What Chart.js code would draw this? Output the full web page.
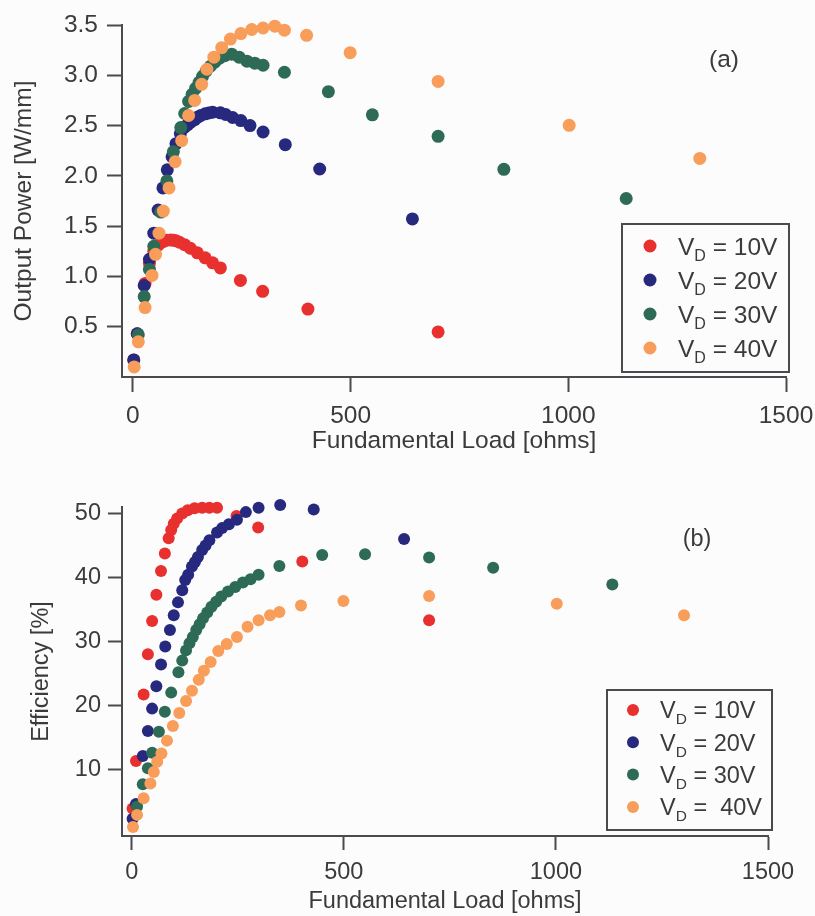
<!DOCTYPE html>
<html>
<head>
<meta charset="utf-8">
<title>Output power and efficiency versus fundamental load</title>
<script src="https://cdn.jsdelivr.net/npm/chart.js@4.4.1/dist/chart.umd.min.js"></script>
<style>
  html, body { margin: 0; padding: 0; background: #fcfcfc; }
  #wrap { position: relative; width: 815px; height: 916px; overflow: hidden; }
  canvas { position: absolute; left: 0; }
  #chartPower { top: 0; }
  #chartEff { top: 458px; }
</style>
</head>
<body>
<div id="wrap">
  <canvas id="chartPower" width="815" height="458"></canvas>
  <canvas id="chartEff" width="815" height="458"></canvas>
</div>
<script>
// Drain-voltage sweeps (legend text after "V_D =")
const sweepLabelsPower = ['10V', '20V', '30V', '40V'];
const sweepLabelsEff   = ['10V', '20V', '30V', ' 40V'];

// Fundamental load [ohms] of each measured point, per drain voltage
const load10 = [2, 10, 28, 38, 48, 58, 69, 78, 87, 93, 99, 107, 119, 132, 148, 166, 183, 201, 247, 298, 402, 701];
const load20 = [2, 10, 26, 38, 48, 58, 69, 79, 90, 99, 109, 119, 126, 133, 142, 149, 156, 166, 174, 183, 201, 213, 229, 248, 269, 299, 350, 429, 642];
const load30 = [12.5, 26, 38, 48, 64, 78, 93, 110, 119, 128, 136, 144, 152, 160, 168, 178, 188, 199, 211, 227, 244, 262, 280, 299, 348, 449, 550, 701, 852, 1133];
const load40 = [3, 12.5, 28, 44, 52, 60, 70, 83, 97, 112, 128, 142, 158, 170, 186, 204, 224, 248, 273, 299, 326, 348, 399, 499, 701, 1002, 1302];

// Output power [W/mm]
const power10 = [0.17, 0.43, 0.93, 1.13, 1.25, 1.31, 1.345, 1.36, 1.362, 1.36, 1.355, 1.34, 1.315, 1.28, 1.235, 1.185, 1.135, 1.085, 0.96, 0.852, 0.675, 0.448];
const power20 = [0.17, 0.43, 0.91, 1.17, 1.43, 1.66, 1.88, 2.06, 2.19, 2.32, 2.42, 2.485, 2.51, 2.535, 2.56, 2.584, 2.60, 2.617, 2.625, 2.633, 2.627, 2.61, 2.58, 2.55, 2.50, 2.436, 2.31, 2.068, 1.572];
const power30 = [0.42, 0.80, 1.07, 1.30, 1.64, 1.95, 2.24, 2.48, 2.62, 2.74, 2.81, 2.87, 2.93, 2.99, 3.04, 3.09, 3.13, 3.17, 3.195, 3.21, 3.18, 3.14, 3.12, 3.10, 3.03, 2.837, 2.607, 2.393, 2.065, 1.775];
const power40 = [0.10, 0.35, 0.69, 1.01, 1.22, 1.43, 1.65, 1.88, 2.14, 2.35, 2.60, 2.75, 2.91, 3.06, 3.18, 3.275, 3.36, 3.415, 3.455, 3.47, 3.488, 3.449, 3.397, 3.225, 2.939, 2.502, 2.173];

// Drain efficiency [%]
const eff10 = [3.9, 11.3, 21.7, 28.0, 33.2, 37.3, 41.0, 43.75, 46.1, 47.4, 48.4, 49.2, 50.0, 50.5, 50.8, 50.9, 50.9, 50.9, 49.6, 47.8, 42.5, 33.3];
const eff20 = [2.3, 4.6, 12.1, 16.0, 19.5, 23.0, 26.4, 29.2, 31.8, 34.1, 36.1, 38.0, 39.6, 40.4, 41.7, 42.4, 43.2, 44.3, 45.0, 45.8, 47.0, 47.7, 48.3, 49.0, 50.2, 50.9, 51.3, 50.6, 46.0];
const eff30 = [4.2, 7.7, 10.2, 12.6, 15.9, 19.0, 22.0, 25.2, 27.0, 28.6, 29.7, 30.7, 31.8, 32.7, 33.6, 34.5, 35.4, 36.2, 37.0, 37.8, 38.5, 39.2, 39.7, 40.4, 41.8, 43.5, 43.6, 43.1, 41.5, 38.9];
const eff40 = [1.0, 2.9, 5.5, 7.8, 9.6, 11.2, 12.5, 14.5, 16.8, 18.8, 20.7, 22.3, 24.0, 25.4, 26.8, 28.5, 29.6, 30.7, 32.3, 33.3, 34.1, 34.6, 35.6, 36.3, 37.1, 35.9, 34.1];

// Tick values
const loadTicks  = [0, 500, 1000, 1500];
const powerTicks = [0.5, 1.0, 1.5, 2.0, 2.5, 3.0, 3.5];
const effTicks   = [10, 20, 30, 40, 50];

const sweepColors = ['#e8302f', '#27297f', '#2e6b57', '#f89d5a'];
const inkColor  = '#3b3b3b';
const axisColor = '#4b4b4f';
const FONT = "'Liberation Sans', Arial, Helvetica, sans-serif";

Chart.defaults.font.family = FONT;
Chart.defaults.color = inkColor;

const loads  = [load10, load20, load30, load40];
const powers = [power10, power20, power30, power40];
const effs   = [eff10, eff20, eff30, eff40];

function points(xs, ys) {
  return xs.map((x, i) => ({ x: x, y: ys[i] }));
}

function makeDatasets(values, radius) {
  return loads.map((xs, k) => ({
    label: 'VD = ' + sweepLabelsPower[k],
    data: points(xs, values[k]),
    backgroundColor: sweepColors[k],
    borderColor: sweepColors[k],
    borderWidth: 0,
    pointRadius: radius,
    pointHoverRadius: radius,
    pointBorderWidth: 0,
    clip: false,
    // higher sweeps are drawn on top
    order: 4 - k
  }));
}

// Boxed legend with a subscripted "D" in V_D
const boxedLegend = {
  id: 'boxedLegend',
  afterDatasetsDraw(chart, args, o) {
    const { ctx, chartArea } = chart;
    const right = chartArea.right + o.dx;
    const bottom = chartArea.bottom + o.dy;
    const left = right - o.w;
    const top = bottom - o.h;
    ctx.save();
    ctx.lineWidth = 2;
    ctx.strokeStyle = axisColor;
    ctx.strokeRect(left, top, o.w, o.h);
    o.labels.forEach((lab, i) => {
      const cy = top + o.first + i * o.step;
      ctx.beginPath();
      ctx.fillStyle = sweepColors[i];
      ctx.arc(left + o.mark, cy, o.r, 0, Math.PI * 2);
      ctx.fill();
      const base = cy + o.size * 0.35;
      let x = left + o.text;
      ctx.fillStyle = inkColor;
      ctx.textBaseline = 'alphabetic';
      ctx.textAlign = 'left';
      ctx.font = o.size + 'px ' + FONT;
      ctx.fillText('V', x, base);
      x += ctx.measureText('V').width;
      ctx.font = o.sub + 'px ' + FONT;
      ctx.fillText('D', x, base + o.subDrop);
      x += ctx.measureText('D').width;
      ctx.font = o.size + 'px ' + FONT;
      ctx.fillText(' = ' + lab, x, base);
    });
    ctx.restore();
  }
};

// Panel tag "(a)" / "(b)"
const panelTag = {
  id: 'panelTag',
  afterDatasetsDraw(chart, args, o) {
    const { ctx, chartArea } = chart;
    ctx.save();
    ctx.fillStyle = inkColor;
    ctx.font = o.size + 'px ' + FONT;
    ctx.textAlign = 'center';
    ctx.textBaseline = 'middle';
    ctx.fillText(o.text, chartArea.right + o.dx, chartArea.top + o.dy);
    ctx.restore();
  }
};

function makeChart(canvasId, cfg) {
  return new Chart(document.getElementById(canvasId), {
    type: 'scatter',
    data: { datasets: makeDatasets(cfg.values, cfg.radius) },
    options: {
      responsive: false,
      animation: false,
      devicePixelRatio: 1,
      layout: { padding: cfg.padding },
      plugins: {
        legend: { display: false },
        tooltip: { enabled: false },
        boxedLegend: cfg.legend,
        panelTag: cfg.tag
      },
      scales: {
        x: {
          type: 'linear',
          min: cfg.xMin,
          max: 1500,
          afterBuildTicks: s => { s.ticks = loadTicks.map(v => ({ value: v })); },
          // fixed axis height; end labels may overhang into the layout padding
          afterFit: s => { s.height = cfg.xHeight; s.paddingLeft = 0; s.paddingRight = 0; },
          border: { display: true, color: axisColor, width: 2 },
          grid: { display: true, drawOnChartArea: false, drawTicks: true, tickLength: cfg.tickLen, tickWidth: 2, tickColor: axisColor },
          ticks: { color: inkColor, font: { size: cfg.font }, padding: cfg.xPad, maxRotation: 0, autoSkip: false, callback: v => String(v) },
          title: { display: true, text: 'Fundamental Load [ohms]', color: inkColor, font: { size: cfg.font }, padding: { top: 0, bottom: cfg.xTitlePad } }
        },
        y: {
          type: 'linear',
          min: cfg.yMin,
          max: cfg.yMax,
          afterBuildTicks: s => { s.ticks = cfg.yTicks.map(v => ({ value: v })); },
          afterFit: s => { s.width = 122; s.paddingTop = 0; s.paddingBottom = 0; },
          border: { display: true, color: axisColor, width: 2 },
          grid: { display: true, drawOnChartArea: false, drawTicks: true, tickLength: cfg.tickLen, tickWidth: 2, tickColor: axisColor },
          ticks: { color: inkColor, font: { size: cfg.font }, padding: cfg.yPad, autoSkip: false, callback: cfg.yFmt },
          title: { display: true, text: cfg.yTitle, color: inkColor, font: { size: cfg.font }, padding: { top: cfg.yTitlePad, bottom: 0 } }
        }
      }
    },
    plugins: [boxedLegend, panelTag]
  });
}

// (a) output power
makeChart('chartPower', {
  values: powers,
  radius: 6.5,
  padding: { left: 0, right: 29, top: 25, bottom: 0 },
  xMin: -25,
  xHeight: 81,
  tickLen: 15,
  font: 24.5,
  xPad: 10,
  xTitlePad: 2,
  yMin: 0,
  yMax: 3.5,
  yTicks: powerTicks,
  yPad: 9,
  yFmt: v => v.toFixed(1),
  yTitle: 'Output Power [W/mm]',
  yTitlePad: 10,
  legend: { labels: sweepLabelsPower, dx: 3, dy: -5, w: 167, h: 148, first: 22, step: 34, mark: 28, text: 56, r: 6.5, size: 24.5, sub: 16, subDrop: 6 },
  tag: { text: '(a)', dx: -62, dy: 35, size: 24.5 }
});

// (b) drain efficiency
makeChart('chartEff', {
  values: effs,
  radius: 6,
  padding: { left: 0, right: 47, top: 49, bottom: 0 },
  xMin: -23,
  xHeight: 80,
  tickLen: 14,
  font: 23.5,
  xPad: 8,
  xTitlePad: 0,
  yMin: -0.4,
  yMax: 51,
  yTicks: effTicks,
  yPad: 7,
  yFmt: v => String(v),
  yTitle: 'Efficiency [%]',
  yTitlePad: 27,
  legend: { labels: sweepLabelsEff, dx: 4, dy: -6, w: 165, h: 140, first: 20, step: 32.3, mark: 26, text: 53, r: 6, size: 23.5, sub: 15.5, subDrop: 6 },
  tag: { text: '(b)', dx: -71, dy: 33, size: 23.5 }
});
</script>
</body>
</html>
